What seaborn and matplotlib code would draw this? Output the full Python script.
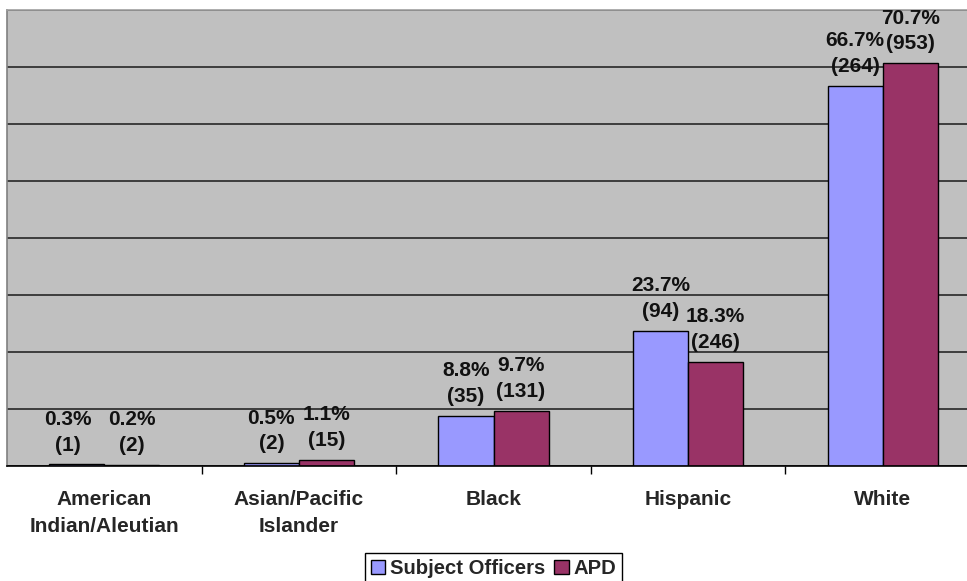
import matplotlib
matplotlib.use("Agg")
import matplotlib.pyplot as plt
import seaborn as sns
import pandas as pd
from matplotlib.patches import Patch

# Racial/ethnic make-up: subject officers vs. the whole department
categories = ["American\nIndian/Aleutian", "Asian/Pacific\nIslander", "Black", "Hispanic", "White"]
groups = ["Subject Officers", "APD"]
subject_pct = [0.3, 0.5, 8.8, 23.7, 66.7]
subject_n = [1, 2, 35, 94, 264]
apd_pct = [0.2, 1.1, 9.7, 18.3, 70.7]
apd_n = [2, 15, 131, 246, 953]
colors = ["#9999FF", "#993366"]

df = pd.DataFrame({
    "category": categories * 2,
    "group": [groups[0]] * len(categories) + [groups[1]] * len(categories),
    "pct": subject_pct + apd_pct,
})

sns.set_theme(style="white")
plt.rcParams["font.family"] = ["Liberation Sans", "DejaVu Sans"]
plt.rcParams["font.weight"] = "bold"

W, H = 967, 581
fig = plt.figure(figsize=(W / 100, H / 100), dpi=100)
ax = fig.add_axes([7 / W, (H - 466) / H, 973 / W, 456 / H])
ax.set_facecolor("#C0C0C0")

sns.barplot(data=df, x="category", y="pct", hue="group", order=categories,
            hue_order=groups, palette=colors, width=0.566, edgecolor="black",
            linewidth=1, saturation=1, legend=False, ax=ax)

ax.set_ylim(0, 80)
ax.set_yticks(range(0, 81, 10))
ax.set_yticklabels([])
ax.tick_params(axis="y", length=0)
ax.yaxis.grid(True, color="#1a1a1a", linewidth=1.1)
ax.xaxis.grid(False)
ax.set_axisbelow(True)
ax.set_xlim(-0.5, len(categories) - 0.5)
ax.set_xlabel("")
ax.set_ylabel("")

# Category labels centered, tick marks on the category boundaries
ax.tick_params(axis="x", which="major", length=0, pad=17, labelsize=15)
for lbl in ax.get_xticklabels():
    lbl.set_fontweight("bold")
    lbl.set_linespacing(1.55)
ax.set_xticks([i + 0.5 for i in range(len(categories) - 1)], minor=True)
ax.tick_params(axis="x", which="minor", length=6, width=1, color="black", bottom=True)

for side, col in [("bottom", "black"), ("left", "#808080"), ("top", "#A0A0A0"), ("right", "#808080")]:
    ax.spines[side].set_visible(True)
    ax.spines[side].set_color(col)
    ax.spines[side].set_linewidth(1.2)

# Value labels: percentage with count underneath
label_sets = [
    [f"{p}%\n({n})" for p, n in zip(subject_pct, subject_n)],
    [f"{p}%\n({n})" for p, n in zip(apd_pct, apd_n)],
]
for i, (container, labels) in enumerate(zip(ax.containers, label_sets)):
    texts = ax.bar_label(container, labels=labels, padding=7, fontsize=15,
                         fontweight="bold", linespacing=1.45, color="#111111")
    if i == 0:
        # keep the two tiny leftmost labels from crowding each other
        texts[0].xyann = (-6.5, 7)

handles = [Patch(facecolor=c, edgecolor="black", linewidth=1) for c in colors]
leg = fig.legend(handles, groups, loc="lower center", ncol=2,
                 bbox_to_anchor=(493.5 / W, -0.006), frameon=True, fancybox=False,
                 edgecolor="black", framealpha=1, fontsize=14.6,
                 handlelength=0.7, handleheight=0.7, handletextpad=0.25,
                 columnspacing=0.45, borderpad=0.3, borderaxespad=0)
for t in leg.get_texts():
    t.set_fontweight("bold")
leg.get_frame().set_linewidth(1)

fig.savefig("out.png", dpi=100, facecolor="white")
